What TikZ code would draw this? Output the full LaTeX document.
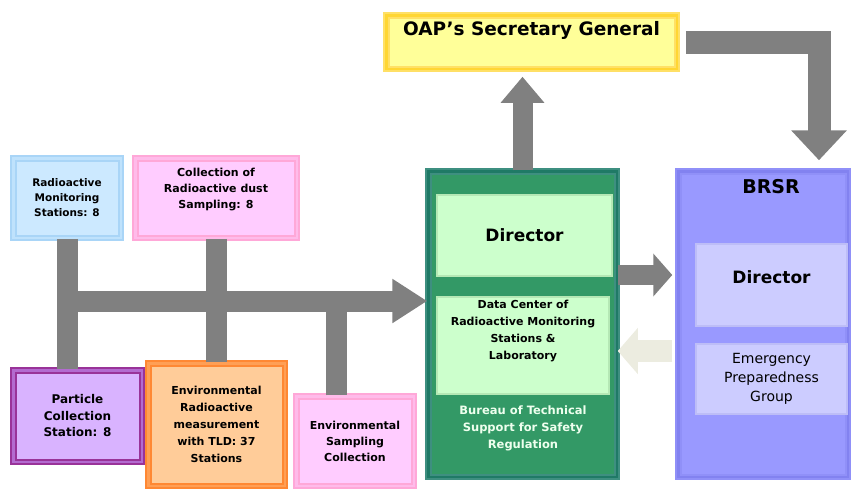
\documentclass[tikz,border=0pt]{standalone}
\usepackage{fontspec}
\setmainfont{DejaVu Sans}
\usetikzlibrary{arrows.meta}
\definecolor{bargray}{HTML}{808080}
\definecolor{backbeige}{HTML}{ECECE0}
\definecolor{bluefill}{HTML}{CCE9FF}
\definecolor{blueline}{HTML}{A9D5F7}
\definecolor{bluemid}{HTML}{BFE2FC}
\definecolor{pinkfill}{HTML}{FFCCFF}
\definecolor{pinkline}{HTML}{FFA8D8}
\definecolor{pinkmid}{HTML}{FFBBEA}
\definecolor{purplefill}{HTML}{D9B3FF}
\definecolor{purpleline}{HTML}{993399}
\definecolor{purplemid}{HTML}{B36BD0}
\definecolor{orangefill}{HTML}{FFCC99}
\definecolor{orangeline}{HTML}{FF8833}
\definecolor{orangemid}{HTML}{FF9F55}
\definecolor{bureaufill}{HTML}{339966}
\definecolor{bureauline}{HTML}{3E8F80}
\definecolor{bureaumid}{HTML}{1F7A66}
\definecolor{mintfill}{HTML}{CCFFCC}
\definecolor{mintline}{HTML}{B5E8B5}
\definecolor{brsrfill}{HTML}{9999FF}
\definecolor{brsrline}{HTML}{9090F8}
\definecolor{brsrmid}{HTML}{8282F0}
\definecolor{lilacfill}{HTML}{CCCCFF}
\definecolor{lilacline}{HTML}{BDBDF7}
\definecolor{oapfill}{HTML}{FFFF99}
\definecolor{oapline}{HTML}{FFE066}
\definecolor{oapmid}{HTML}{FFD633}
\definecolor{bureautext}{HTML}{EEFFEE}
\begin{document}
\begin{tikzpicture}[x=1pt, y=-1pt, thick,
  box/.style n args={3}{rectangle, fill=#1, draw=#2, double=#3, double distance=2.5pt, line width=2pt,
    align=center, inner sep=0pt, font=\fontsize{10.5}{15}\selectfont\bfseries},
  inbox/.style n args={2}{rectangle, fill=#1, draw=#2, line width=1.5pt, align=center, inner sep=0pt},
  bar/.style={draw=bargray, line width=21pt}]
  \useasboundingbox (0,0) rectangle (853,491);
  % station boxes on the left
  \node (rms) at (67,198) [box={bluefill}{blueline}{bluemid}, minimum width=107.5pt, minimum height=79.5pt] {Radioactive\\Monitoring\\Stations: 8};
  \node (dust) at (216,198) [box={pinkfill}{pinkline}{pinkmid}, minimum width=161.5pt, minimum height=79.5pt, font=\fontsize{11}{16}\selectfont\bfseries] {Collection of\\Radioactive dust\\Sampling: 8\\[4pt]};
  \node (particle) at (77.5,416) [box={purplefill}{purpleline}{purplemid}, minimum width=128.5pt, minimum height=91.5pt, font=\fontsize{12}{16.5}\selectfont\bfseries] {Particle\\Collection\\Station: 8};
  \node (tld) at (216.5,424.5) [box={orangefill}{orangeline}{orangemid}, minimum width=136.5pt, minimum height=122.5pt, font=\fontsize{11}{17}\selectfont\bfseries] {Environmental\\Radioactive\\measurement\\with TLD: 37\\Stations};
  \node (envsamp) at (355,441) [box={pinkfill}{pinkline}{pinkmid}, minimum width=117.5pt, minimum height=89.5pt, font=\fontsize{11}{16}\selectfont\bfseries] {Environmental\\Sampling\\Collection};
  % bureau of technical support
  \node (bureau) at (522.5,324) [box={bureaufill}{bureauline}{bureaumid}, minimum width=188.5pt, minimum height=305.5pt] {};
  \node (dir1) at (524.5,235.5) [inbox={mintfill}{mintline}, minimum width=175pt, minimum height=81pt, font=\fontsize{17}{20}\selectfont\bfseries] {Director};
  \node (datac) at (523,345.5) [inbox={mintfill}{mintline}, minimum width=172pt, minimum height=97pt] {};
  \node (datatext) at (523,331) [align=center, font=\fontsize{11}{17}\selectfont\bfseries] {Data Center of\\Radioactive Monitoring\\Stations \&\\Laboratory};
  \node (btext) at (523,428) [align=center, text=bureautext, font=\fontsize{11.5}{17}\selectfont\bfseries] {Bureau of Technical\\Support for Safety\\Regulation};
  % BRSR
  \node (brsr) at (763,324) [box={brsrfill}{brsrline}{brsrmid}, minimum width=169.5pt, minimum height=305.5pt] {};
  \node (brsrtitle) at (771,187) [font=\fontsize{19}{22}\selectfont\bfseries] {BRSR};
  \node (dir2) at (771.5,285) [inbox={lilacfill}{lilacline}, minimum width=151pt, minimum height=82pt, font=\fontsize{17}{20}\selectfont\bfseries] {Director\\[-4pt]};
  \node (emerg) at (771.5,379) [inbox={lilacfill}{lilacline}, minimum width=151pt, minimum height=70pt, font=\fontsize{14}{19}\selectfont] {Emergency\\Preparedness\\Group};
  % secretary general
  \node (oap) at (531.5,42) [box={oapfill}{oapline}{oapmid}, minimum width=290.5pt, minimum height=53.5pt] {};
  \node (oaptitle) at (531.5,30) [font=\fontsize{18.5}{21}\selectfont\bfseries] {OAP's Secretary General};
  % grey trunk and feeders
  \coordinate (hub) at (rms.south |- 0,301);
  \draw [bar] (rms.south) -- (rms.south |- particle.north);
  \draw [bar] (dust.south) -- (dust.south |- tld.north);
  \draw [bar] ([xshift=-18.5pt]envsamp.north) -- ([xshift=-18.5pt]envsamp.north |- hub);
  \draw [bar, -{Triangle[length=35pt,width=42pt]}] (hub) -- (hub -| bureau.west);
  % arrows between the offices
  \draw [bar, line width=20pt, shorten >=7pt, -{Triangle[length=26pt,width=42pt]}] (bureau.north) -- (bureau.north |- oap.south);
  \draw [bar, line width=23pt, shorten <=8pt, shorten >=10pt, -{Triangle[length=30pt,width=54pt]}] (oap.east) -| ([xshift=56pt]brsr.north);
  \draw [bar, line width=20pt, shorten >=5pt, -{Triangle[length=19pt,width=42pt]}] ([yshift=49pt]bureau.east) -- ([yshift=49pt]bureau.east -| brsr.west);
  \draw [draw=backbeige, line width=22pt, shorten <=5pt, -{Triangle[length=20pt,width=45pt]}] ([yshift=-27pt]brsr.west) -- ([yshift=-27pt]brsr.west -| bureau.east);
\end{tikzpicture}
\end{document}
